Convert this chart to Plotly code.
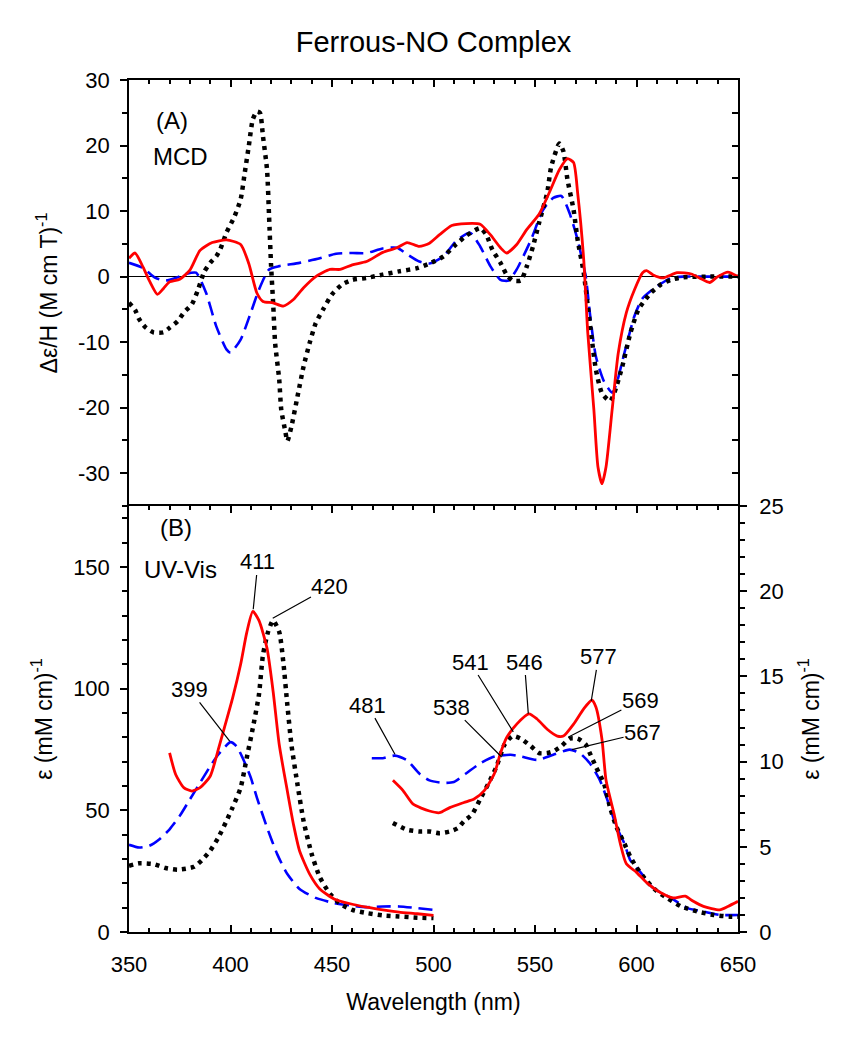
import plotly.graph_objects as go

# ---------------- Data ----------------
# (A) MCD spectra
mcd_red_wl = [350, 353, 357, 360, 364, 367, 370, 375, 380, 385, 391, 398, 405, 409, 413, 416, 421, 426, 431, 436,
              442, 449, 454, 460, 467, 475, 482, 487, 493, 498, 503, 509, 516, 523, 528, 533, 536, 541, 546, 552,
              557, 562, 566, 569, 571, 574, 576, 579, 581, 583, 585, 588, 591, 595, 599, 603, 605, 608, 613, 620,
              627, 631, 636, 640, 645, 650]
mcd_red = [2.8, 3.6, 1.4, -0.6, -2.7, -1.8, -0.8, -0.4, 1.0, 4.0, 5.2, 5.6, 4.9, 2.0, -2.5, -3.8, -4.0, -4.5, -3.5, -1.7,
           0.0, 1.1, 1.1, 1.8, 2.3, 3.7, 4.4, 5.2, 4.6, 5.1, 6.4, 7.8, 8.1, 8.0, 6.4, 4.4, 3.6, 4.9, 7.2, 9.5,
           12.8, 16.3, 18.0, 17.4, 12.8, 2.6, -8.6, -20.3, -29.0, -31.6, -29.0, -20.3, -11.7, -5.5, -2.0, 0.6, 0.9, 0.3, -0.2, 0.6,
           0.4, -0.2, -0.9, 0.0, 0.7, 0.0]

mcd_blue_wl = [350, 357, 363, 368, 373, 378, 383, 388, 393, 398, 400, 405, 410, 414, 419, 424, 434, 444, 452, 460,
               467, 475, 482, 487, 493, 498, 505, 511, 518, 523, 528, 533, 537, 541, 548, 554, 559, 563, 567, 571,
               575, 577, 580, 584, 588, 590, 594, 599, 603, 610, 617, 623, 635, 650]
mcd_blue = [2.1, 1.3, -0.2, -0.6, -0.2, 0.4, 0.6, -2.5, -7.6, -11.1, -11.6, -9.6, -5.5, -2.0, 1.1, 1.6, 2.1, 2.8, 3.5, 3.6,
            3.6, 4.3, 4.4, 3.4, 2.3, 2.0, 3.1, 5.4, 6.7, 4.6, 1.6, -0.5, -0.6, 1.1, 5.6, 10.2, 12.0, 12.3, 9.7, 5.6,
            0.0, -5.5, -12.2, -16.0, -17.7, -16.5, -11.7, -6.0, -3.3, -1.5, -0.2, 0.0, 0.0, 0.0]

mcd_black_wl = [350, 353, 355, 358, 362, 367, 370, 374, 377, 381, 384, 387, 390, 393, 395, 398, 402, 405, 407, 409,
                411, 413, 414.5, 416, 418, 419, 420, 421, 422, 424, 425, 427, 428, 430, 433, 436, 439, 442, 446, 450,
                455, 460, 467, 475, 483, 492, 498, 505, 511, 516, 523, 526, 529, 533, 536, 539, 543, 546, 549, 552,
                556, 558, 562, 564, 566, 569, 571, 574, 576, 578, 580, 583, 587, 589, 593, 597, 601, 607, 612, 617,
                623, 635, 650]
mcd_black = [-4.0, -5.1, -6.5, -7.7, -8.5, -8.5, -7.8, -6.8, -5.5, -4.2, -2.0, 0.7, 2.1, 3.1, 4.2, 6.7, 9.2, 11.8, 15.8, 19.9,
             24.0, 25.2, 25.0, 21.4, 16.3, 9.2, 1.6, -4.0, -10.2, -15.7, -20.3, -23.6, -25.1, -22.9, -18.3, -13.7, -10.1, -7.1, -4.8, -2.7,
             -1.2, -0.5, -0.2, 0.3, 0.8, 1.3, 2.0, 3.1, 4.9, 6.2, 7.4, 6.4, 4.1, 2.1, 0.3, -0.6, -0.6, 1.6, 4.6, 8.2,
             12.8, 16.8, 20.3, 19.1, 14.8, 10.2, 5.6, 0.6, -4.5, -9.6, -14.2, -17.8, -19.0, -17.8, -13.7, -8.6, -5.0, -2.5, -1.2, -0.5,
             -0.1, 0.0, 0.0]

# (B) UV-Vis, Soret region (left axis, (mM cm)^-1)
uv_red_l_wl = [370, 373, 377, 381, 385, 390, 394, 397, 401, 405, 408, 411, 414, 418, 421, 424, 428, 431, 434, 439,
               444, 451, 459, 467, 475, 483, 492, 500]
uv_red_l = [73.6, 64.7, 59.3, 57.9, 59.3, 64.0, 75.0, 84.0, 96.0, 110.0, 123.0, 131.7, 128.0, 116.5, 98.8, 77.0, 57.9, 44.3, 33.4, 23.8,
            17.7, 13.6, 11.6, 10.2, 9.1, 8.2, 7.5, 6.8]

uv_blue_l_wl = [350, 355, 360, 365, 370, 375, 380, 385, 390, 394, 400, 403, 406, 410, 413, 418, 423, 428, 434, 442,
                451, 459, 467, 475, 483, 492, 500]
uv_blue_l = [35.8, 34.7, 35.4, 38.1, 42.2, 47.7, 54.5, 61.3, 68.1, 72.9, 78.0, 76.3, 71.5, 63.4, 55.2, 42.9, 32.0, 23.8, 17.7, 14.0,
             11.9, 10.9, 10.2, 10.5, 10.5, 9.8, 9.1]

uv_black_l_wl = [350, 355, 362, 368, 374, 382, 386, 390, 394, 398, 401, 405, 408, 411, 414, 416, 418.5, 421, 424, 426,
                 428, 430, 433, 436, 440, 444, 449, 454, 460, 467, 475, 483, 492, 500]
uv_black_l = [27.2, 28.2, 27.9, 26.3, 25.6, 26.8, 29.6, 33.4, 38.8, 45.6, 51.1, 59.3, 71.5, 83.8, 97.4, 113.8, 123.3, 128.0, 123.3, 111.0,
              93.3, 77.0, 60.6, 45.6, 32.0, 22.5, 15.7, 11.6, 9.1, 7.8, 6.8, 6.4, 5.9, 5.7]

# (B) UV-Vis, visible region (right axis, (mM cm)^-1)
uv_blue_r_wl = [469.6, 475, 481, 487, 493, 498, 505, 510, 516, 523, 530, 538, 543, 551, 559, 567, 572, 577, 582, 587,
                590, 594, 597, 602, 608, 617, 625, 633, 641, 650]
uv_blue_r = [10.2, 10.2, 10.35, 10.07, 9.3, 8.9, 8.75, 8.8, 9.3, 9.9, 10.3, 10.4, 10.3, 10.1, 10.4, 10.7, 10.5, 9.9, 8.9, 7.3,
             6.2, 5.2, 4.2, 3.5, 2.6, 2.0, 1.4, 1.2, 1.0, 1.0]

uv_red_r_wl = [480, 485, 490, 498, 503, 508, 515, 520, 525, 530, 533, 536, 541, 547, 551, 556, 561, 564, 569, 574,
               578, 580, 583, 585, 589, 592, 595, 600, 605, 612, 618, 624, 628, 633, 641, 645, 650]
uv_red_r = [8.9, 8.3, 7.5, 7.1, 7.0, 7.3, 7.6, 7.8, 8.3, 9.3, 10.5, 11.4, 12.2, 12.8, 12.5, 11.9, 11.5, 11.5, 12.2, 13.1,
            13.6, 13.2, 11.3, 8.9, 6.9, 5.2, 4.0, 3.5, 2.9, 2.3, 2.0, 2.1, 1.8, 1.5, 1.3, 1.5, 1.8]

uv_black_r_wl = [480, 487, 493, 498, 503, 508, 512, 515, 519, 523, 527, 531, 535, 539, 543, 548, 552, 556, 559, 563,
                 567, 571, 575, 577, 580, 584, 587, 590, 594, 597, 600, 605, 610, 615, 622, 630, 638, 646, 650]
uv_black_r = [6.4, 6.0, 5.9, 5.9, 5.8, 5.9, 6.1, 6.5, 6.9, 7.8, 8.7, 9.7, 11.0, 11.5, 11.35, 10.9, 10.5, 10.5, 10.6, 10.9,
              11.35, 11.35, 11.0, 10.5, 9.7, 8.7, 7.3, 6.2, 5.2, 4.4, 3.8, 3.0, 2.4, 2.0, 1.5, 1.2, 1.0, 0.9, 0.9]

# Tick labels
mcd_ticks = [-30, -20, -10, 0, 10, 20, 30]
mcd_ticktext = ["-30", "-20", "-10", "0", "10", "20", "30"]

# Peak labels: text, label position (wl, left-axis value), pointed position (wl, left-axis value)
peak_text = ["411", "420", "399", "481", "538", "541", "546", "577", "569", "567"]
peak_label_wl = [413.5, 449, 379.8, 467.6, 509, 518, 544.8, 581.3, 601.9, 603]
peak_label_val = [152, 142, 99.7, 93.2, 92.4, 110.9, 110.9, 113, 95.2, 81.9]
peak_point_wl = [411.2, 420.8, 399.6, 481, 533.6, 539.3, 546.7, 577.7, 566.5, 568.2]
peak_point_val = [132.6, 128.9, 78.4, 73, 71.9, 82.2, 89.7, 94.9, 80.1, 74.9]

# ---------------- Styles ----------------
FONT = "Liberation Sans, Arial, sans-serif"
RED = dict(color="#ff0000", width=2.8)
BLUE = dict(color="#0000ff", width=2.6, dash="14px,7px")
BLACK = dict(color="#000000", width=4.5, dash="4px,5px")
SM = 0.6

fig = go.Figure()

def add(x, y, line, xa, ya):
    fig.add_trace(go.Scatter(x=x, y=y, mode="lines", line=dict(shape="spline", smoothing=SM, **line),
                             xaxis=xa, yaxis=ya, showlegend=False, hoverinfo="skip"))

# Panel A
add(mcd_blue_wl, mcd_blue, BLUE, "x", "y")
add(mcd_black_wl, mcd_black, BLACK, "x", "y")
add(mcd_red_wl, mcd_red, RED, "x", "y")
fig.add_trace(go.Scatter(x=[], y=[], xaxis="x", yaxis="y3", showlegend=False))

# Panel B
add(uv_blue_l_wl, uv_blue_l, BLUE, "x2", "y2")
add(uv_black_l_wl, uv_black_l, BLACK, "x2", "y2")
add(uv_red_l_wl, uv_red_l, RED, "x2", "y2")
add(uv_blue_r_wl, uv_blue_r, BLUE, "x2", "y4")
add(uv_black_r_wl, uv_black_r, BLACK, "x2", "y4")
add(uv_red_r_wl, uv_red_r, RED, "x2", "y4")

tickfont = dict(family=FONT, size=22, color="black")
titlefont = dict(family=FONT, size=23, color="black")

fig.update_layout(
    width=861, height=1050,
    margin=dict(l=129, r=123, t=80, b=118, autoexpand=False),
    paper_bgcolor="white", plot_bgcolor="white",
    font=dict(family=FONT, color="black"),
    title=dict(text="Ferrous-NO Complex", x=0.5, xref="paper", xanchor="center",
               y=1 - 42 / 1050, yref="container", yanchor="middle",
               font=dict(family=FONT, size=29, color="black")),
    xaxis=dict(domain=[0, 1], range=[350, 650], anchor="y", side="top", showticklabels=False,
               showline=True, linecolor="black", linewidth=1.5, showgrid=False, zeroline=False,
               ticks="inside", dtick=50, tick0=350, ticklen=7, tickcolor="black", tickwidth=1.5,
               minor=dict(dtick=10, ticks="inside", ticklen=4, tickcolor="black", tickwidth=1.5)),
    yaxis=dict(domain=[0.5, 1], range=[-35, 30], anchor="x", showline=True, linecolor="black", linewidth=1.5,
               showgrid=False, zeroline=True, zerolinecolor="black", zerolinewidth=1.2,
               ticks="outside", tickvals=mcd_ticks, ticktext=mcd_ticktext, ticklen=7, tickcolor="black",
               tickwidth=1.5, tickfont=tickfont, ticklabelstandoff=6,
               minor=dict(tickvals=[-35, -25, -15, -5, 5, 15, 25], ticks="outside", ticklen=5,
                          tickcolor="black", tickwidth=1.5),
               title=dict(text="Δε/H (M cm T)<sup>-1</sup>", font=titlefont, standoff=14)),
    yaxis3=dict(overlaying="y", side="right", anchor="x", range=[-35, 30], showline=True, linecolor="black",
                linewidth=1.5, showgrid=False, zeroline=False, showticklabels=False,
                ticks="inside", dtick=5, tick0=0, ticklen=6, tickcolor="black", tickwidth=1.5),
    xaxis2=dict(domain=[0, 1], range=[350, 650], anchor="y2", showline=True, linecolor="black", linewidth=1.5,
                mirror="ticks", showgrid=False, zeroline=False,
                ticks="inside", dtick=50, tick0=350, ticklen=7, tickcolor="black", tickwidth=1.5,
                tickfont=tickfont, ticklabelstandoff=12,
                minor=dict(dtick=10, ticks="inside", ticklen=4, tickcolor="black", tickwidth=1.5),
                title=dict(text="Wavelength (nm)", font=titlefont, standoff=18)),
    yaxis2=dict(domain=[0, 0.5], range=[0, 175], anchor="x2", showline=True, linecolor="black", linewidth=1.5,
                showgrid=False, zeroline=False, ticks="outside", dtick=50, tick0=0, ticklen=7,
                tickcolor="black", tickwidth=1.5, tickfont=tickfont, ticklabelstandoff=6,
                minor=dict(dtick=10, ticks="outside", ticklen=5, tickcolor="black", tickwidth=1.5),
                title=dict(text="ε (mM cm)<sup>-1</sup>", font=titlefont, standoff=14)),
    yaxis4=dict(overlaying="y2", side="right", anchor="x2", range=[0, 25], showline=True, linecolor="black",
                linewidth=1.5, showgrid=False, zeroline=False, ticks="outside", dtick=5, tick0=0, ticklen=7,
                tickcolor="black", tickwidth=1.5, tickfont=tickfont, ticklabelstandoff=8,
                minor=dict(dtick=1, ticks="outside", ticklen=5, tickcolor="black", tickwidth=1.5),
                title=dict(text="ε (mM cm)<sup>-1</sup>", font=titlefont, standoff=20)),
)

# Panel labels
panel_font = dict(family=FONT, size=24, color="black")
fig.add_annotation(text="(A)", x=0.07, y=30 - 6.2, xref="paper", yref="y", showarrow=False,
                   xanchor="center", yanchor="middle", font=panel_font)
fig.add_annotation(text="MCD", x=0.084, y=30 - 11.6, xref="paper", yref="y", showarrow=False,
                   xanchor="center", yanchor="middle", font=panel_font)
fig.add_annotation(text="(B)", x=0.077, y=166, xref="paper", yref="y2", showarrow=False,
                   xanchor="center", yanchor="middle", font=panel_font)
fig.add_annotation(text="UV-Vis", x=0.084, y=149, xref="paper", yref="y2", showarrow=False,
                   xanchor="center", yanchor="middle", font=panel_font)

# Peak labels with leader lines
for t, lx, ly, px, py in zip(peak_text, peak_label_wl, peak_label_val, peak_point_wl, peak_point_val):
    fig.add_annotation(text=t, x=px, y=py, xref="x2", yref="y2", ax=lx, ay=ly, axref="x2", ayref="y2",
                       showarrow=True, arrowhead=0, arrowwidth=1.2, arrowcolor="black",
                       font=dict(family=FONT, size=22, color="black"), borderpad=0, standoff=0)

fig.write_html("out.html", config={"displayModeBar": False},
               post_script="document.body.style.margin='0';")
